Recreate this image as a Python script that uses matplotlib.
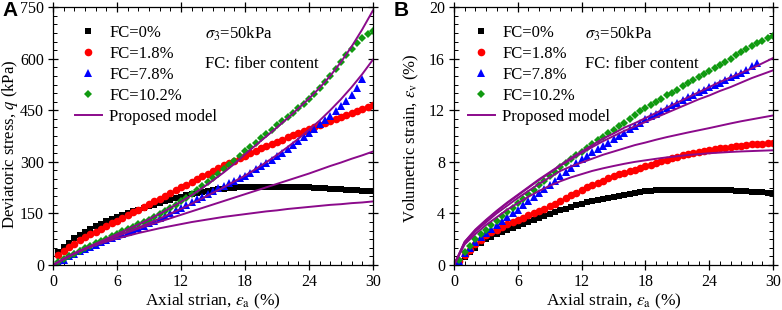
import matplotlib
matplotlib.use("Agg")
import matplotlib.pyplot as plt
from matplotlib.ticker import MultipleLocator, AutoMinorLocator

plt.rcParams['font.family'] = ['Liberation Serif', 'DejaVu Serif']
plt.rcParams['mathtext.fontset'] = 'stix'

# ---- data ----
strain = [0.5, 1.0, 1.5, 2.0, 2.5, 3.0, 3.5, 4.0, 4.5, 5.0, 5.5, 6.0, 6.5, 7.0, 7.5,
          8.0, 8.5, 9.0, 9.5, 10.0, 10.5, 11.0, 11.5, 12.0, 12.5, 13.0, 13.5, 14.0, 14.5, 15.0,
          15.5, 16.0, 16.5, 17.0, 17.5, 18.0, 18.5, 19.0, 19.5, 20.0, 20.5, 21.0, 21.5, 22.0, 22.5,
          23.0, 23.5, 24.0, 24.5, 25.0, 25.5, 26.0, 26.5, 27.0, 27.5, 28.0, 28.5, 29.0, 29.5, 30.0]
strain_model = [0, 1, 2, 3, 4, 5, 6, 7, 8, 9, 10, 11, 12, 13, 14, 15,
                16, 17, 18, 19, 20, 21, 22, 23, 24, 25, 26, 27, 28, 29, 30]

labels = ['FC=0%', 'FC=1.8%', 'FC=7.8%', 'FC=10.2%']

# panel A: deviatoric stress q (kPa)
q_fc0 = [38, 52, 65, 78, 88, 97, 106, 113, 120, 127, 133, 139, 145, 150, 156,
         161, 166, 171, 176, 181, 186, 190, 195, 199, 203, 206, 210, 213, 216, 218,
         220, 222, 224, 225, 226, 227, 228, 228, 228, 228, 228, 228, 228, 228, 228,
         227, 227, 226, 225, 224, 223, 222, 221, 220, 219, 218, 217, 216, 215, 214]
q_fc18 = [28, 40, 52, 62, 72, 81, 89, 97, 105, 113, 121, 129, 137, 145, 153,
          161, 169, 177, 185, 193, 202, 210, 218, 226, 234, 242, 250, 258, 266, 274,
          282, 290, 297, 304, 311, 318, 325, 332, 339, 345, 352, 358, 365, 371, 377,
          383, 389, 395, 401, 407, 413, 419, 425, 431, 437, 443, 449, 455, 460, 466]
q_fc78 = [8, 16, 25, 32, 40, 47, 53, 59, 66, 72, 78, 85, 91, 97, 103,
          109, 115, 122, 129, 136, 144, 151, 159, 167, 175, 183, 191, 199, 207, 215,
          223, 231, 238, 245, 252, 260, 269, 278, 287, 297, 306, 316, 326, 337, 348,
          360, 372, 385, 397, 409, 421, 433, 447, 462, 478, 495, 515, 540]
q_fc102 = [8, 17, 25, 33, 41, 49, 56, 63, 70, 77, 84, 91, 98, 105, 112,
           118, 125, 132, 140, 148, 157, 166, 176, 186, 196, 207, 218, 230, 242, 254,
           266, 278, 291, 304, 317, 331, 343, 356, 368, 381, 393, 406, 418, 431, 443,
           456, 469, 482, 498, 515, 532, 550, 570, 590, 610, 628, 645, 660, 672, 680]

q_model = [
    [0, 18, 34, 47, 58, 68, 77, 85, 93, 100, 107, 113, 119, 125, 130, 135,
     140, 144, 148, 152, 156, 159, 163, 166, 169, 172, 175, 177, 180, 182, 185],
    [0, 18, 34, 48, 61, 73, 84, 95, 106, 116, 126, 136, 146, 156, 166, 176,
     186, 196, 206, 216, 226, 236, 246, 256, 266, 277, 288, 298, 309, 319, 330],
    [0, 17, 33, 47, 60, 72, 85, 97, 109, 122, 135, 149, 163, 178, 194, 210,
     226, 243, 260, 279, 299, 320, 343, 367, 393, 420, 450, 482, 517, 555, 597],
    [0, 17, 33, 48, 62, 76, 90, 104, 118, 133, 149, 166, 184, 203, 224, 246,
     269, 294, 322, 348, 374, 400, 427, 455, 484, 515, 550, 590, 635, 685, 740],
]

# panel B: volumetric strain ev (%)
ev_fc0 = [0.2, 0.6, 1.0, 1.35, 1.7, 2.0, 2.2, 2.4, 2.6, 2.75, 2.9, 3.05, 3.2, 3.35, 3.5,
          3.65, 3.8, 3.95, 4.1, 4.25, 4.38, 4.5, 4.62, 4.75, 4.88, 5.0, 5.08, 5.15, 5.22, 5.3,
          5.38, 5.45, 5.52, 5.6, 5.66, 5.72, 5.76, 5.8, 5.83, 5.85, 5.85, 5.85, 5.85, 5.85, 5.85,
          5.85, 5.85, 5.85, 5.84, 5.82, 5.81, 5.8, 5.78, 5.75, 5.72, 5.7, 5.68, 5.65, 5.62, 5.6]
ev_fc18 = [0.3, 0.8, 1.2, 1.6, 1.95, 2.3, 2.55, 2.75, 2.95, 3.15, 3.33, 3.5, 3.68, 3.85, 4.03,
           4.2, 4.38, 4.55, 4.75, 4.95, 5.18, 5.4, 5.62, 5.85, 6.03, 6.2, 6.38, 6.55, 6.72, 6.9,
           7.03, 7.15, 7.28, 7.4, 7.53, 7.65, 7.78, 7.9, 8.03, 8.15, 8.28, 8.4, 8.5, 8.6, 8.68,
           8.75, 8.83, 8.9, 8.98, 9.05, 9.1, 9.15, 9.2, 9.25, 9.3, 9.35, 9.38, 9.42, 9.45, 9.48]
ev_fc78 = [0.35, 0.9, 1.35, 1.8, 2.15, 2.5, 2.8, 3.1, 3.4, 3.7, 4.0, 4.3, 4.63, 4.95, 5.28,
           5.6, 5.9, 6.2, 6.55, 6.9, 7.23, 7.55, 7.88, 8.2, 8.48, 8.75, 9.0, 9.25, 9.5, 9.75,
           10.0, 10.25, 10.53, 10.8, 11.05, 11.3, 11.53, 11.75, 11.98, 12.2, 12.4, 12.6, 12.8, 13.0, 13.2,
           13.4, 13.6, 13.8, 13.98, 14.15, 14.35, 14.55, 14.73, 14.9, 15.15, 15.4, 15.65]
ev_fc102 = [0.4, 1.0, 1.5, 2.0, 2.38, 2.75, 3.1, 3.45, 3.78, 4.1, 4.45, 4.8, 5.15, 5.5, 5.85,
            6.2, 6.55, 6.9, 7.25, 7.6, 7.9, 8.2, 8.5, 8.8, 9.1, 9.4, 9.68, 9.95, 10.23, 10.5,
            10.78, 11.05, 11.35, 11.65, 11.93, 12.2, 12.43, 12.65, 12.9, 13.15, 13.38, 13.6, 13.85, 14.1, 14.33,
            14.55, 14.8, 15.05, 15.28, 15.5, 15.75, 16.0, 16.25, 16.5, 16.73, 16.95, 17.18, 17.4, 17.6, 17.8]

ev_model = [
    [0, 1.6, 2.4, 3.1, 3.7, 4.3, 4.8, 5.3, 5.75, 6.15, 6.5, 6.8, 7.05, 7.3, 7.5, 7.68,
     7.85, 8.0, 8.12, 8.24, 8.35, 8.44, 8.53, 8.6, 8.67, 8.72, 8.77, 8.81, 8.84, 8.87, 8.9],
    [0, 1.7, 2.6, 3.3, 4.0, 4.6, 5.2, 5.75, 6.3, 6.8, 7.3, 7.65, 7.95, 8.25, 8.55, 8.8,
     9.05, 9.3, 9.5, 9.72, 9.92, 10.1, 10.28, 10.45, 10.62, 10.8, 10.98, 11.15, 11.3, 11.45, 11.6],
    [0, 1.8, 2.7, 3.45, 4.15, 4.8, 5.4, 6.0, 6.6, 7.15, 7.7, 8.2, 8.7, 9.15, 9.6, 10.0,
     10.4, 10.75, 11.1, 11.45, 11.8, 12.15, 12.5, 12.85, 13.15, 13.5, 13.8, 14.15, 14.5, 14.8, 15.1],
    [0, 1.8, 2.75, 3.5, 4.2, 4.85, 5.45, 6.05, 6.65, 7.2, 7.75, 8.3, 8.8, 9.3, 9.8, 10.2,
     10.65, 11.0, 11.4, 11.8, 12.2, 12.6, 13.0, 13.4, 13.8, 14.2, 14.55, 14.9, 15.25, 15.65, 16.05],
]

colors = ['black', '#ff0000', '#0000ff', '#119a11']
markers = ['s', 'o', '^', 'D']
msizes = [5, 5.5, 5.5, 4.5]
purple = '#8b0a8b'


def desenhar_painel(ax, series, modelos, ymax, ymajor, xlabel, ylabel, leg_x, txt_x, ylab_y):
    """Desenha um painel com pontos experimentais e curvas do modelo."""
    for ys, c, m, ms, lab in zip(series, colors, markers, msizes, labels):
        ax.plot(strain[:len(ys)], ys, linestyle='none', marker=m, color=c,
                markersize=ms, markeredgewidth=0, label=lab)
    for i, ym in enumerate(modelos):
        ax.plot(strain_model, ym, color=purple, lw=1.4,
                label='Proposed model' if i == 0 else None)

    ax.set_xlim(0, 30)
    ax.set_ylim(0, ymax)
    ax.xaxis.set_major_locator(MultipleLocator(6))
    ax.xaxis.set_minor_locator(MultipleLocator(1))
    ax.yaxis.set_major_locator(MultipleLocator(ymajor))
    ax.yaxis.set_minor_locator(AutoMinorLocator(6))
    ax.tick_params(which='major', direction='inout', length=7, width=0.9,
                   top=True, right=True, labelsize=11.5, pad=3)
    ax.tick_params(which='minor', direction='in', length=3, width=0.7,
                   top=True, right=True)
    for sp in ax.spines.values():
        sp.set_linewidth(0.9)
    ax.set_xlabel(xlabel, fontsize=12.5, labelpad=1)
    ax.set_ylabel(ylabel, fontsize=12)
    ax.yaxis.set_label_coords(-0.104, ylab_y)

    ax.legend(loc='upper left', bbox_to_anchor=(leg_x, 0.93), frameon=False,
              fontsize=12, numpoints=1, borderpad=0, labelspacing=0.3,
              handlelength=1.6, handletextpad=0.45, borderaxespad=0)
    ax.text(txt_x, 0.895, r'$\sigma_3$=50kPa', transform=ax.transAxes,
            fontsize=12, va='center')
    ax.text(txt_x, 0.78, 'FC: fiber content', transform=ax.transAxes,
            fontsize=12, va='center')


fig = plt.figure(figsize=(7.82, 3.10), dpi=100)
ax1 = fig.add_axes([0.0678, 0.145, 0.409, 0.832])
ax2 = fig.add_axes([0.5806, 0.145, 0.408, 0.832])

desenhar_painel(ax1, [q_fc0, q_fc18, q_fc78, q_fc102], q_model, 750, 150,
                r'Axial strian, $\varepsilon_{\rm a}$ (%)',
                r'Deviatoric stress, $q$ (kPa)', 0.069, 0.475, 0.47)
desenhar_painel(ax2, [ev_fc0, ev_fc18, ev_fc78, ev_fc102], ev_model, 20, 4,
                r'Axial strain, $\varepsilon_{\rm a}$ (%)',
                r'Volumetric strain, $\varepsilon_{\rm v}$ (%)', 0.044, 0.41, 0.49)

fig.text(0.003, 0.998, 'A', fontsize=15, fontweight='bold', family='Liberation Sans', va='top')
fig.text(0.503, 0.998, 'B', fontsize=15, fontweight='bold', family='Liberation Sans', va='top')

fig.savefig('out.png', dpi=100)
